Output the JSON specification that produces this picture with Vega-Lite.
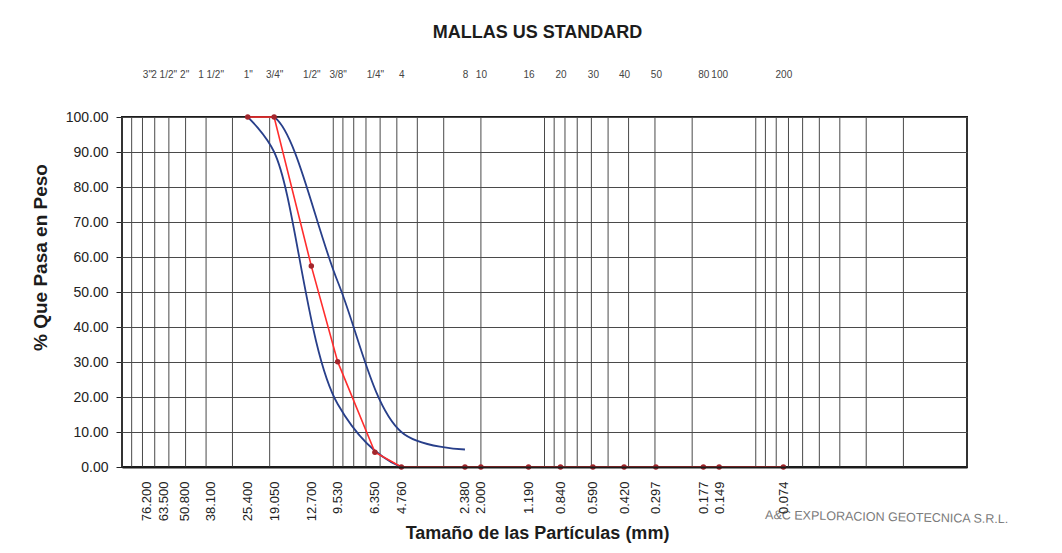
{
  "$schema": "https://vega.github.io/schema/vega-lite/v6.json",
  "width": 845,
  "height": 350,
  "autosize": {"type": "none"},
  "padding": {"left": 122, "top": 117, "right": 95, "bottom": 86},
  "background": "#ffffff",
  "title": {
    "text": "MALLAS US STANDARD",
    "font": "Liberation Sans",
    "fontSize": 18,
    "fontWeight": "bold",
    "color": "#1c1c1c",
    "anchor": "middle",
    "dx": -7,
    "offset": 27
  },
  "config": {
    "font": "Liberation Sans",
    "view": {"stroke": "#1c1c1c", "strokeWidth": 2}
  },
  "resolve": {"axis": {"x": "independent", "y": "independent"}},
  "datasets": {
    "grid": [
      {"mm": 100}, {"mm": 90}, {"mm": 80}, {"mm": 70}, {"mm": 60}, {"mm": 50}, {"mm": 40}, {"mm": 30}, {"mm": 20},
      {"mm": 10}, {"mm": 9}, {"mm": 8}, {"mm": 7}, {"mm": 6}, {"mm": 5}, {"mm": 4}, {"mm": 3}, {"mm": 2},
      {"mm": 1}, {"mm": 0.9}, {"mm": 0.8}, {"mm": 0.7}, {"mm": 0.6}, {"mm": 0.5}, {"mm": 0.4}, {"mm": 0.3}, {"mm": 0.2},
      {"mm": 0.1}, {"mm": 0.09}, {"mm": 0.08}, {"mm": 0.07}, {"mm": 0.06}, {"mm": 0.05}, {"mm": 0.04}, {"mm": 0.03}, {"mm": 0.02},
      {"mm": 0.01}
    ],
    "limits": [
      {"limite": "inferior", "mm": 25.4, "pasa": 100},
      {"limite": "inferior", "mm": 19.05, "pasa": 90},
      {"limite": "inferior", "mm": 9.53, "pasa": 18},
      {"limite": "inferior", "mm": 4.76, "pasa": 0},
      {"limite": "inferior", "mm": 2.38, "pasa": 0},
      {"limite": "superior", "mm": 25.4, "pasa": 100},
      {"limite": "superior", "mm": 19.05, "pasa": 100},
      {"limite": "superior", "mm": 9.53, "pasa": 53},
      {"limite": "superior", "mm": 4.76, "pasa": 10},
      {"limite": "superior", "mm": 2.38, "pasa": 5}
    ],
    "sample": [
      {"mm": 25.4, "pasa": 100},
      {"mm": 19.05, "pasa": 100},
      {"mm": 12.7, "pasa": 57.4},
      {"mm": 9.53, "pasa": 30.1},
      {"mm": 6.35, "pasa": 4.2},
      {"mm": 4.76, "pasa": 0},
      {"mm": 2.38, "pasa": 0},
      {"mm": 2.0, "pasa": 0},
      {"mm": 1.19, "pasa": 0},
      {"mm": 0.84, "pasa": 0},
      {"mm": 0.59, "pasa": 0},
      {"mm": 0.42, "pasa": 0},
      {"mm": 0.297, "pasa": 0},
      {"mm": 0.177, "pasa": 0},
      {"mm": 0.149, "pasa": 0},
      {"mm": 0.074, "pasa": 0}
    ]
  },
  "layer": [
    {
      "data": {"name": "grid"},
      "mark": {"type": "rule", "color": "#4a4a4a", "strokeWidth": 1},
      "encoding": {
        "x": {
          "field": "mm",
          "type": "quantitative",
          "scale": {"type": "log", "domain": [0.01, 100], "reverse": true, "nice": false},
          "axis": {
            "orient": "top",
            "values": [76.2, 63.5, 50.8, 38.1, 25.4, 19.05, 12.7, 9.53, 6.35, 4.76, 2.38, 2, 1.19, 0.84, 0.59, 0.42, 0.297, 0.177, 0.149, 0.074],
            "labelExpr": "['3\"','2 1/2\"','2\"','1 1/2\"','1\"','3/4\"','1/2\"','3/8\"','1/4\"','4','8','10','16','20','30','40','50','80','100','200'][indexof([76.2,63.5,50.8,38.1,25.4,19.05,12.7,9.53,6.35,4.76,2.38,2,1.19,0.84,0.59,0.42,0.297,0.177,0.149,0.074], datum.value)]",
            "labelFont": "Liberation Sans",
            "labelFontSize": 10,
            "labelColor": "#444444",
            "labelPadding": 38,
            "labelOverlap": false,
            "labelBound": false,
            "labelFlush": false,
            "ticks": false,
            "domain": false,
            "grid": false,
            "title": null
          }
        }
      }
    },
    {
      "data": {"name": "limits"},
      "mark": {"type": "line", "interpolate": "catmull-rom", "color": "#283f8a", "strokeWidth": 1.8, "clip": true},
      "encoding": {
        "x": {
          "field": "mm",
          "type": "quantitative",
          "axis": {
            "orient": "bottom",
            "values": [76.2, 63.5, 50.8, 38.1, 25.4, 19.05, 12.7, 9.53, 6.35, 4.76, 2.38, 2, 1.19, 0.84, 0.59, 0.42, 0.297, 0.177, 0.149, 0.074],
            "format": ".3f",
            "labelAngle": 270,
            "labelFontSize": 13,
            "labelColor": "#222222",
            "labelPadding": 14,
            "labelOverlap": false,
            "labelBound": false,
            "labelFlush": false,
            "ticks": false,
            "tickSize": 0,
            "domain": true,
            "domainColor": "#1c1c1c",
            "domainWidth": 2,
            "zindex": 1,
            "grid": false,
            "title": "Tamaño de las Partículas (mm)",
            "titleFontSize": 18,
            "titleFontWeight": "bold",
            "titleColor": "#1c1c1c",
            "titleX": 415,
            "titleY": 71,
            "titleBaseline": "alphabetic"
          }
        },
        "y": {
          "field": "pasa",
          "type": "quantitative",
          "scale": {"domain": [0, 100], "nice": false},
          "axis": {
            "orient": "left",
            "values": [0, 10, 20, 30, 40, 50, 60, 70, 80, 90, 100],
            "format": ".2f",
            "labelFontSize": 14,
            "labelColor": "#222222",
            "labelPadding": 8,
            "ticks": true,
            "tickSize": 6,
            "tickColor": "#222222",
            "domain": false,
            "grid": true,
            "gridColor": "#4a4a4a",
            "gridWidth": 1,
            "title": "% Que Pasa en Peso",
            "titleFontSize": 19,
            "titleFontWeight": "bold",
            "titleColor": "#1c1c1c",
            "titleX": -76,
            "titleY": 140,
            "titleBaseline": "alphabetic"
          }
        },
        "detail": {"field": "limite", "type": "nominal"}
      }
    },
    {
      "data": {"name": "sample"},
      "mark": {"type": "line", "color": "#ff2d2d", "strokeWidth": 1.6},
      "encoding": {
        "x": {"field": "mm", "type": "quantitative", "axis": null},
        "y": {"field": "pasa", "type": "quantitative", "axis": null}
      }
    },
    {
      "data": {"name": "sample"},
      "mark": {"type": "circle", "color": "#a3262c", "size": 30, "opacity": 1},
      "encoding": {
        "x": {"field": "mm", "type": "quantitative", "axis": null},
        "y": {"field": "pasa", "type": "quantitative", "axis": null}
      }
    },
    {
      "data": {"values": [{"sello": "A&C EXPLORACION GEOTECNICA S.R.L."}]},
      "mark": {"type": "text", "font": "Liberation Sans", "fontSize": 12.5, "color": "#7a7a7a", "align": "center", "baseline": "middle", "angle": 1},
      "encoding": {
        "x": {"datum": 0.024, "type": "quantitative", "axis": null},
        "y": {"datum": -14.3, "type": "quantitative", "axis": null},
        "text": {"field": "sello", "type": "nominal"}
      }
    }
  ]
}
